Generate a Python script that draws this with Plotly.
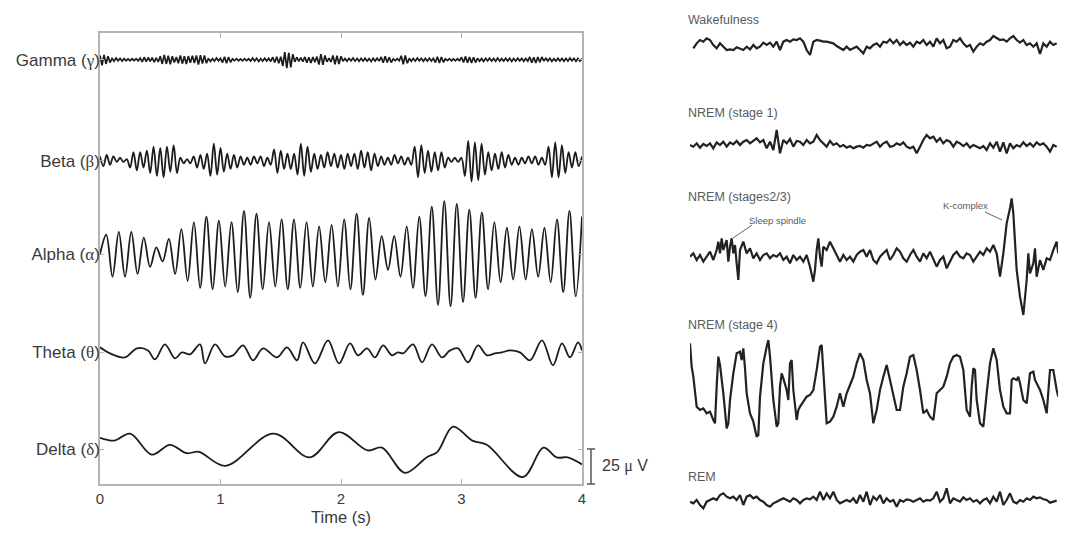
import numpy as np
import plotly.graph_objects as go

# ---------------- LEFT PANEL DATA (time in s, amplitude in µV) ----------------
BANDS = ["Gamma", "Beta", "Alpha", "Theta", "Delta"]
GREEK = ["γ", "β", "α", "θ", "δ"]
OFFSETS_UV = [303, 231, 164, 94, 25]
SCALE_BAR_UV = 25
X_TICKS = [0, 1, 2, 3, 4]

# gamma: successive half-cycle extrema, evenly spaced over 0-4 s
GAMMA_V = [3, -4, 3.5, -3, 2.5, -2,
           1, -1, 1.2, -0.8, 1, -1, 0.8,
           -0.7, 0.6, -0.8, 0.7, -0.6, 0.7, -0.8,
           1.2, -1.5, 1.8, -1.4, 1.6, -1.2, 1.5, -1.8, 1.4, -1.6,
           2.5, -3, 3.5, -3, 2.8, -3.2, 2.5, -2,
           2, -2.5, 3, -2.8, 2.5, -3, 2.6, -2.2, 2.8, -2.4,
           3, -3.5, 3.2, -2.8, 3, -2.5,
           1, -1.2, 0.8, -1, 1.2, -0.8, 1,
           -2, 2.2, -2.5, 2, -1.8,
           0.7, -0.6, 0.8, -0.7, 0.6, -0.8, 0.7, -0.6, 0.7,
           -1, 1.2, -0.9, 1, -1.2, 0.8, -1, 1.1, -0.9, 1, -1.2,
           1.8, -2, 2.2, -2.5, 2.2,
           -4.5, 5.5, -6, 5, -5.5, 4,
           -1.5, 1.8, -1.2, 1.5, -1.4,
           2, -2.2, 1.8, -2.4, 2, -1.8, 2.2,
           -3.5, 4, -3.6, 3,
           -1.5, 1.2, -1.6,
           3, -3.2, 2.8, -3, 2.5,
           -1, 0.9, -1.1, 1, -0.8, 1.2, -1, 0.9, -1.1, 1, -0.9, 1.1, -1, 0.8, -1.2, 1, -0.9, 1.1, -1,
           2, -2.2, 2.5, -2, 1.8, -2,
           0.7, -0.6, 0.8, -0.7,
           2.8, -3.2, 3, -2.5,
           1, -1.1, 0.9, -1, 1.2, -0.8, 1, -1.1, 0.9, -1, 1.1, -0.9, 1,
           -2, 2.2, -2.4, 2, -1.8,
           0.7, -0.6, 0.8, -0.7, 0.6, -0.8, 0.7, -0.6,
           1.8, -2, 2.4, -2.2, 2, -2.4, 1.8, -2,
           1, -1.1, 0.9, -1.2, 1, -0.8, 1.1, -1, 0.9, -1.1, 1.2, -1, 0.8, -1, 1.1, -0.9, 1, -1.2, 0.9, -1,
           1.1, -0.8, 1, -1.1, 0.9, -1,
           2, -2.2, 1.8, -2.4, 2, -1.8, 2,
           -1, 1.1, -0.9, 1, -1.2, 0.8, -1, 1.1, -0.9, 1, -1.1, 0.9, -1, 1.2, -0.8, 1, -1.1, 0.9, -1, 0.8]

# beta: successive half-cycle extrema, evenly spaced over 0-4 s
BETA_V = [3, -4, 4, -3, 3,
          -1, 2, -1, 1,
          -5, 6, -7, 6, -5, 7,
          -9, 10, -11, 9, -12, 10, -8, 11, -9,
          2, -2, 1, -2, 3,
          -5, 4, -6, 5,
          -11, 12, -10, 9, -8,
          5, -6, 4, -5, 3,
          -3, 2, -3, 3, -2, 3, -4, 2, -3,
          8, -9, 7,
          -6, 5, -6, 5,
          -10, 12, -11, 10, -8,
          5, -6, 4, -5, 6, -4, 5, -5, 4, -6, 5, -4, 5,
          -6, 7, -5, 6, -7, 5, -4,
          3, -3, 2, -3, 4, -2, 3, -3, 2, -3,
          10, -12, 11, -9,
          7, -8, 6, -7, 6, -5,
          2, -1, 2, -1, 2,
          -11, 14, -15, 13, -14, 12, -10,
          6, -7, 5, -6, 6, -5, 4,
          -3, 2, -3, 2, -2, 3, -2, 3, -3, 2, -3,
          10, -12, 13, -12, 11, -9,
          6, -5, 6, -4, 3]

# alpha: start value then alternating peaks / troughs, evenly spaced over 0-4 s
ALPHA_V = [0, 14, -16, 16, -16, 16, -14, 12, -9, 5, -5, 11, -14, 18, -19, 23, -24,
           27, -25, 24, -23, 23, -27, 31, -31, 29, -25, 23, -23, 25, -25, 25, -24,
           23, -23, 20, -20, 21, -23, 25, -25, 29, -29, 26, -18, 13, -11, 13, -16,
           20, -24, 27, -30, 34, -36, 38, -37, 36, -34, 32, -31, 30, -25, 23, -20,
           19, -18, 20, -18, 18, -16, 19, -20, 25, -27, 31, -30, 27]

THETA_T = [0, 0.083, 0.207, 0.307, 0.398, 0.456, 0.539, 0.622, 0.68, 0.747, 0.83,
           0.871, 0.954, 1.037, 1.104, 1.187, 1.27, 1.353, 1.469, 1.552, 1.635,
           1.685, 1.784, 1.892, 1.983, 2.075, 2.141, 2.216, 2.282, 2.349, 2.423,
           2.473, 2.515, 2.598, 2.672, 2.755, 2.838, 2.905, 2.971, 3.054, 3.137,
           3.212, 3.278, 3.336, 3.402, 3.485, 3.568, 3.668, 3.759, 3.834, 3.9,
           3.967, 4.0]
THETA_V = [3.6, -0.7, -3.6, 2.9, 1.4, -5, 5.7, -4.3, 0, -1.4, 5.7,
           -7.9, 5.7, -2.9, -2.1, 5, -5.7, 2.9, -3.6, 3.6, -5.7,
           7.1, -7.9, 8.6, -7.9, 6.4, -2.1, 2.9, -3.6, 5, -2.1,
           0, -0.7, 5.7, -7.1, 5.7, -3.6, 1.4, 2.9, -7.1, 5,
           -2.1, -0.7, 0, 1.4, 0, -5.7, 8.6, -9.3, 6.4, -3.6,
           7.1, 1.4]

DELTA_T = [0, 0.12, 0.25, 0.43, 0.58, 0.72, 0.82, 1.04, 1.44, 1.74, 1.98, 2.22,
           2.34, 2.53, 2.71, 2.80, 2.93, 3.09, 3.21, 3.51, 3.68, 3.79, 3.88, 4.0]
DELTA_V = [8, 6, 11, -4, 3, -3, -2, -12, 11, -6, 12, -1,
           1, -17, -6, -2, 16, 6, 3, -20, 1, -6, -6, -11]

# ---------------- RIGHT PANEL DATA (sample index, arbitrary units) ----------------
STAGES = ["Wakefulness", "NREM (stage 1)", "NREM (stages2/3)", "NREM (stage 4)", "REM"]
STAGE_OFFSETS = [1424, 1119, 784, 394, 49]

WAKE_V = [-15, 0, 10, 5, 15, 10, -5, -15, 0, -10, -20, -18, -20, -12, -15, -20, -10, -18,
          -5, -15, -10, 2, -5, 2, -10, 5, -20, 5, 10, 5, 12, 10, 15, 5, -20, -35, 5, 10,
          8, 5, 5, 2, 0, -8, -15, -20, -10, -20, -15, -10, -20, -30, -10, -15, -5, 0,
          -10, 5, 2, 12, 0, 10, -5, 5, -5, 2, -10, 5, 0, 10, -5, 5, -10, 15, 0, 10,
          -15, -10, 10, 5, 15, 0, -10, -5, -25, -10, 0, -5, 5, 10, 22, 15, 10, 12, 5,
          15, 22, 10, 2, 10, -5, 0, -10, 0, -32, 0, -10, 5, -5, 0]

STAGE1_V = [0, -5, 5, -8, 3, -3, 5, -10, 8, 0, 10, -5, 8, 2, 12, 0, 10, 15, 5, 12, 20,
            8, 15, -10, 10, -15, 45, -25, 15, 5, 18, -5, 12, 10, 0, 15, 5, 10, 30, 15,
            5, -5, 12, 0, 5, -5, 0, -8, -3, -10, -5, -3, -8, 0, -2, 5, 10, -5, 5, 10,
            -5, -3, 5, 0, 8, -5, -10, -5, -25, -5, 15, 30, 20, 25, 10, 20, 5, 15, 10,
            -5, 10, 5, -3, 5, -8, 0, -5, -10, -3, -15, 5, -8, 10, -20, 8, -25, 5, -10,
            0, -5, 8, -3, 5, -5, 8, 0, 5, -5, -20, 0, -5]

STAGE23_I = [0, 1, 2, 3, 4, 5, 6, 7, 8, 8.5, 9, 9.5, 10, 11, 11.5, 12, 12.5, 13, 13.5,
             14, 14.5, 15, 16, 17, 18, 19, 20, 21, 22, 23, 24, 25, 26, 27, 28, 29, 30,
             31, 32, 33, 34, 35, 36, 37, 37.5, 38, 38.5, 39, 39.5, 40, 41, 42, 43, 44,
             45, 46, 47, 48, 49, 50, 51, 52, 53, 54, 55, 56, 57, 58, 59, 60, 61, 62, 63,
             64, 65, 66, 67, 68, 69, 70, 71, 72, 73, 74, 75, 76, 77, 78, 79, 80, 81, 82,
             83, 84, 85, 86, 87, 88, 89, 90, 91, 92, 93, 94, 95, 96, 96.5, 97, 97.5, 98,
             99, 100, 101, 101.5, 102, 103, 103.5, 104, 105, 106, 107, 108, 109, 110, 110.5]
STAGE23_V = [0, 10, -10, 5, -15, 0, 15, -10, 20, 45, 10, 55, 20, 50, -15, 30, 55, 10, 35,
             -20, -70, 20, 45, 10, 25, -5, 10, -10, 5, 10, -5, 5, 0, 10, -10, 0, -20,
             5, -10, 0, -15, 5, -30, -75, -40, 20, 55, 0, -30, 30, 20, 45, 25, 0,
             -15, 5, -10, 0, -15, 5, 15, 20, 0, 20, -10, -20, 0, 10, 20, -10, 5, 25, 15,
             -5, -15, 5, 20, 0, -15, 10, -5, 15, -5, -30, -10, 0, -35, -15, 5, 15, 0, -5,
             10, 5, -15, 0, 15, 5, 25, 15, 35, 10, -60, 10, 100, 145, 175, 130, 50, -40,
             -120, -175, -70, 10, -50, -20, 25, -60, -10, -40, -5, -10, 20, 45, 10]

STAGE4_I = [0, 0.5, 1, 2, 3, 4, 5, 6, 7, 7.5, 8, 8.5, 9, 10, 11, 11.5, 12, 13, 14, 15,
            15.5, 16, 16.5, 17, 18, 19, 20, 20.5, 21, 22, 23, 23.5, 24, 25, 26, 26.5, 27,
            27.5, 28, 29, 29.5, 30, 30.5, 31, 32, 32.5, 33, 34, 35, 36, 37, 38, 39, 39.5,
            40, 41, 42, 43, 44, 45, 46, 47, 48, 49, 50, 51, 52, 53, 54, 55, 56, 57, 58,
            59, 60, 61, 62, 63, 64, 65, 66, 67, 68, 69, 70, 71, 72, 73, 74, 75, 76, 77,
            78, 79, 80, 81, 82, 83, 84, 84.5, 85, 85.5, 86, 87, 88, 89, 90, 91, 92, 93,
            94, 95, 96, 96.5, 97, 98, 98.5, 99, 100, 101, 102, 103, 103.5, 104, 105, 106,
            107, 108, 109, 110, 110.5]
STAGE4_V = [130, 60, 30, -60, -70, -65, -80, -75, -100, -110, 0, 90, 65, -20, -125, -110,
            -40, 40, 100, 105, 80, 115, 55, -20, -80, -105, -150, -145, -30, 70, 120, 140,
            90, -40, -120, -110, 0, 40, 25, -10, -40, 70, 80, -10, -100, -70, -60, -45,
            -30, -25, -10, 50, 120, 125, 50, -110, -105, -90, -60, -20, -60, -20, 5, 30,
            70, 100, 80, 20, -20, -110, -70, -10, 30, 65, 20, -30, -70, -70, 0, 40, 90,
            95, 50, -10, -80, -70, -90, -100, -20, -10, 0, 30, 70, 90, 95, 90, 50, -70,
            -90, 0, 55, 50, -40, -110, -120, -20, 70, 115, 80, -10, -60, -80, -80, 20, 25,
            20, 30, 10, -40, -50, 40, 45, 20, 10, -10, -40, -80, 50, 50, -10, -30]

REM_V = [0, -5, 5, -10, -20, 0, 5, 10, 5, 20, 25, 15, 10, 15, 5, 20, -10, 15, 20, 10, 15,
         5, 0, -10, -15, -5, 0, 5, 10, 5, 0, 10, 5, -5, 5, 10, 7, 15, 5, 30, 5, 25, 10,
         30, 5, -5, 0, 5, 0, 10, -5, 20, 0, 30, -10, 15, 5, 20, -5, 10, 0, 5, -15, 5, 0,
         7, 5, 0, 5, 10, 0, 5, 3, 10, 30, 0, 10, 40, -5, 10, 5, 0, 13, 5, 10, 0, 5, -5,
         5, 10, -5, 15, 0, 30, -10, 5, 25, 0, -5, 5, 0, 10, 5, 15, 10, 13, 7, 5, -3, 0, 3]

# ---------------- LAYOUT ----------------
# the page body adds an 8 px margin, so the figure is 8 px smaller and starts at (8, 8)
PAGE_OFF = 8
W, H = 1086 - PAGE_OFF, 538 - PAGE_OFF
ML, MR, MT, MB = 100 - PAGE_OFF, 28, 10 - PAGE_OFF, 20
PW, PH = W - ML - MR, H - MT - MB


def pxx(p):
    """page pixel x -> paper fraction"""
    return (p - PAGE_OFF - ML) / PW


def pxy(p):
    """page pixel y -> paper fraction"""
    return (H - MB - (p - PAGE_OFF)) / PH


Y_RANGE = [0, 322.1]
Y_DOM = [pxy(484), pxy(33)]
X_DOM = [0, pxx(582)]

TRACE_COLOR = "#1c1c1c"
TEXT_COLOR = "#3a3a3a"
AXIS_COLOR = "#b4b4b4"

fig = go.Figure()

left_series = [
    (np.linspace(0, 4, len(GAMMA_V)), GAMMA_V, "linear", 1.7),
    (np.linspace(0, 4, len(BETA_V)), BETA_V, "spline", 1.8),
    (np.linspace(0, 4, len(ALPHA_V)), ALPHA_V, "spline", 1.8),
    (np.array(THETA_T), THETA_V, "spline", 1.8),
    (np.array(DELTA_T), DELTA_V, "spline", 1.8),
]
for name, off, (t, v, shp, lw) in zip(BANDS, OFFSETS_UV, left_series):
    fig.add_trace(go.Scatter(
        x=t, y=off + np.array(v, dtype=float), mode="lines", name=name,
        line=dict(color=TRACE_COLOR, width=lw, shape=shp),
        xaxis="x", yaxis="y", showlegend=False, hoverinfo="skip"))

right_series = [
    (np.linspace(1, 110, len(WAKE_V)), WAKE_V),
    (np.linspace(0, 110, len(STAGE1_V)), STAGE1_V),
    (np.array(STAGE23_I), STAGE23_V),
    (np.array(STAGE4_I), STAGE4_V),
    (np.linspace(0, 110, len(REM_V)), REM_V),
]
for name, off, (i, v) in zip(STAGES, STAGE_OFFSETS, right_series):
    fig.add_trace(go.Scatter(
        x=i, y=off + np.array(v, dtype=float), mode="lines", name=name,
        line=dict(color="#222222", width=2.2),
        xaxis="x2", yaxis="y2", showlegend=False, hoverinfo="skip"))

serif = "font-family:'Liberation Serif','DejaVu Serif',serif"
ticktext = [f"{b} (<span style=\"{serif}\">{g}</span>)" for b, g in zip(BANDS, GREEK)]

fig.update_layout(
    width=W, height=H,
    margin=dict(l=ML, r=MR, t=MT, b=MB, autoexpand=False),
    paper_bgcolor="white", plot_bgcolor="rgba(0,0,0,0)",
    font=dict(family="Liberation Sans, Arial, sans-serif", color=TEXT_COLOR),
    xaxis=dict(domain=X_DOM, range=[0, 4], tickvals=X_TICKS, ticks="inside",
               ticklen=5, tickcolor=AXIS_COLOR, showline=True, linecolor=AXIS_COLOR,
               linewidth=1.5, mirror="ticks", showgrid=False, zeroline=False,
               tickfont=dict(size=15, color=TEXT_COLOR), anchor="y"),
    yaxis=dict(domain=Y_DOM, range=Y_RANGE, tickvals=OFFSETS_UV, ticktext=ticktext,
               ticks="inside", ticklen=4, tickcolor=AXIS_COLOR, showline=True,
               linecolor=AXIS_COLOR, linewidth=1.5, mirror="ticks", showgrid=False,
               zeroline=False, tickfont=dict(size=17, color=TEXT_COLOR), anchor="x",
               ticklabelstandoff=-5),
    xaxis2=dict(domain=[pxx(690), 1.0], range=[0, 110.4], visible=False, anchor="y2"),
    yaxis2=dict(domain=[0, 1], range=[0, 1524], visible=False, anchor="x2"),
)


# scale bar (25 µV) next to the delta trace
def uv_to_paper(v):
    return Y_DOM[0] + (v - Y_RANGE[0]) / (Y_RANGE[1] - Y_RANGE[0]) * (Y_DOM[1] - Y_DOM[0])


bx = pxx(591)
bar_col = "#555555"
fig.add_shape(type="line", xref="paper", yref="paper", x0=bx, x1=bx,
              y0=uv_to_paper(0), y1=uv_to_paper(SCALE_BAR_UV), line=dict(color=bar_col, width=1.5))
for v in (0, SCALE_BAR_UV):
    fig.add_shape(type="line", xref="paper", yref="paper", x0=pxx(587), x1=pxx(595),
                  y0=uv_to_paper(v), y1=uv_to_paper(v), line=dict(color=bar_col, width=1.5))
fig.add_annotation(xref="paper", yref="paper", x=pxx(600), y=uv_to_paper(SCALE_BAR_UV / 2),
                   xanchor="left", yanchor="middle", showarrow=False,
                   text=f"{SCALE_BAR_UV} <span style=\"{serif}\">μ</span> V",
                   font=dict(size=16, color=TEXT_COLOR))

fig.add_annotation(xref="paper", yref="paper", x=pxx(341), y=pxy(517),
                   xanchor="center", yanchor="middle", showarrow=False,
                   text="Time (s)", font=dict(size=16.5, color=TEXT_COLOR))

# right-panel labels
label_px_y = [20, 113, 197, 325, 477]
for name, py in zip(STAGES, label_px_y):
    fig.add_annotation(xref="paper", yref="paper", x=pxx(686), y=pxy(py),
                       xanchor="left", yanchor="middle", showarrow=False,
                       text=name, font=dict(size=12.5, color="#5a5a5a"))

fig.add_annotation(xref="paper", yref="paper", x=pxx(747), y=pxy(220),
                   xanchor="left", yanchor="middle", showarrow=False,
                   text="Sleep spindle", font=dict(size=9.5, color="#5a5a5a"))
fig.add_shape(type="line", xref="paper", yref="paper", x0=pxx(752), y0=pxy(225),
              x1=pxx(733), y1=pxy(238), line=dict(color="#666666", width=1))
fig.add_annotation(xref="paper", yref="paper", x=pxx(941), y=pxy(205),
                   xanchor="left", yanchor="middle", showarrow=False,
                   text="K-complex", font=dict(size=9.5, color="#5a5a5a"))
fig.add_shape(type="line", xref="paper", yref="paper", x0=pxx(985), y0=pxy(212),
              x1=pxx(1002), y1=pxy(220), line=dict(color="#666666", width=1))

fig.write_html("out.html")
